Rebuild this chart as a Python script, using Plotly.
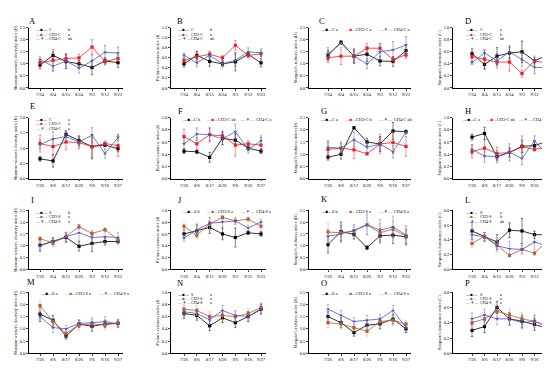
import plotly.graph_objects as go

# ---------------- DATA ----------------
dates_r1 = ["7/24", "8/4", "8/15", "8/24", "9/3", "9/12", "9/23"]
dates_r2 = ["7/26", "8/6", "8/17", "8/26", "9/6", "9/16", "9/27"]
dates_r3 = ["7/26", "8/4", "8/15", "8/26", "9/3", "9/12", "9/23"]
dates_r4 = ["7/26", "8/6", "8/17", "8/26", "9/6", "9/16", "9/27"]

names_C = ["C", "CH3-C", "CH4-C"]
names_S = ["S", "CH3-S", "CH4-S"]

# significance letters per panel (series order)
sig_A = ["b", "a", "ab"]; sig_B = ["b", "a", "ab"]; sig_C = ["a", "a", "a"]; sig_D = ["a", "b", "ab"]
sig_E = ["a", "a", "a"]; sig_F = ["b", "ab", "a"]; sig_G = ["a", "b", "ab"]; sig_H = ["a", "ab", "b"]
sig_I = ["b", "a", "a"]; sig_J = ["b", "a", "a"]; sig_K = ["b", "a", "a"]; sig_L = ["a", "b", "ab"]
sig_M = ["a", "a", "a"]; sig_N = ["a", "a", "a"]; sig_O = ["a", "a", "a"]; sig_P = ["a", "a", "a"]

# Panel A - Shannon (C series)
A_1 = [0.95, 1.35, 1.10, 1.00, 0.85, 1.12, 1.05]
A_2 = [1.05, 1.15, 1.22, 1.25, 1.70, 1.10, 1.22]
A_3 = [1.18, 0.90, 1.12, 0.82, 1.12, 1.48, 1.45]
A_1e = [0.15, 0.15, 0.30, 0.15, 0.30, 0.12, 0.20]
A_2e = [0.15, 0.45, 0.20, 0.15, 0.30, 0.15, 0.15]
A_3e = [0.12, 0.20, 0.25, 0.20, 0.25, 0.30, 0.25]
# Panel B - Pielou
B_1 = [0.48, 0.65, 0.53, 0.48, 0.52, 0.67, 0.50]
B_2 = [0.55, 0.62, 0.67, 0.60, 0.85, 0.65, 0.68]
B_3 = [0.65, 0.50, 0.65, 0.48, 0.55, 0.72, 0.70]
B_1e = [0.06, 0.08, 0.10, 0.05, 0.18, 0.05, 0.08]
B_2e = [0.05, 0.10, 0.06, 0.05, 0.10, 0.05, 0.06]
B_3e = [0.04, 0.08, 0.06, 0.06, 0.12, 0.08, 0.08]
# Panel C - Margalef
C_1 = [1.35, 1.90, 1.32, 1.40, 1.12, 1.10, 1.55]
C_2 = [1.25, 1.32, 1.32, 1.65, 1.65, 1.18, 1.38]
C_3 = [1.42, 1.85, 1.32, 1.00, 1.50, 1.58, 1.78]
C_1e = [0.20, 0.05, 0.25, 0.30, 0.20, 0.20, 0.25]
C_2e = [0.20, 0.35, 0.30, 0.20, 0.20, 0.10, 0.15]
C_3e = [0.25, 0.05, 0.30, 0.20, 0.35, 0.35, 0.35]
# Panel D - Simpson
D_1 = [0.57, 0.39, 0.53, 0.58, 0.60, 0.45, 0.54]
D_2 = [0.52, 0.48, 0.43, 0.43, 0.24, 0.45, 0.41]
D_3 = [0.42, 0.58, 0.45, 0.60, 0.47, 0.34, 0.34]
D_1e = [0.08, 0.08, 0.14, 0.10, 0.18, 0.05, 0.10]
D_2e = [0.08, 0.15, 0.06, 0.15, 0.06, 0.08, 0.06]
D_3e = [0.03, 0.05, 0.12, 0.10, 0.12, 0.10, 0.10]
# Panel E - Shannon
E_1 = [0.65, 0.58, 1.45, 1.25, 1.05, 1.10, 0.98]
E_2 = [1.15, 1.05, 1.20, 1.18, 1.05, 1.15, 1.08]
E_3 = [1.12, 1.30, 1.38, 1.20, 1.42, 0.82, 1.35]
E_1e = [0.08, 0.20, 0.10, 0.15, 0.40, 0.05, 0.10]
E_2e = [0.28, 0.25, 0.25, 0.20, 0.35, 0.08, 0.35]
E_3e = [0.15, 0.25, 0.20, 0.15, 0.25, 0.15, 0.10]
# Panel F - Pielou
F_1 = [0.45, 0.44, 0.35, 0.66, 0.63, 0.50, 0.45]
F_2 = [0.69, 0.57, 0.72, 0.70, 0.55, 0.57, 0.55]
F_3 = [0.57, 0.73, 0.72, 0.65, 0.77, 0.48, 0.62]
F_1e = [0.04, 0.03, 0.08, 0.10, 0.10, 0.04, 0.04]
F_2e = [0.12, 0.10, 0.10, 0.08, 0.18, 0.05, 0.12]
F_3e = [0.10, 0.10, 0.12, 0.10, 0.12, 0.06, 0.08]
# Panel G - Margalef
G_1 = [0.88, 1.00, 2.08, 1.50, 1.42, 1.95, 1.92]
G_2 = [1.20, 1.25, 1.18, 1.02, 1.42, 1.48, 1.32]
G_3 = [1.28, 1.25, 1.60, 1.28, 1.42, 1.10, 1.90]
G_1e = [0.12, 0.20, 0.05, 0.15, 0.30, 0.35, 0.05]
G_2e = [0.35, 0.25, 0.35, 0.05, 0.40, 0.45, 0.40]
G_3e = [0.20, 0.20, 0.30, 0.20, 0.30, 0.25, 0.10]
# Panel H - Simpson
H_1 = [0.68, 0.74, 0.36, 0.43, 0.53, 0.54, 0.61]
H_2 = [0.44, 0.50, 0.41, 0.43, 0.52, 0.48, 0.52]
H_3 = [0.48, 0.37, 0.36, 0.43, 0.33, 0.62, 0.39]
H_1e = [0.05, 0.10, 0.06, 0.06, 0.10, 0.06, 0.03]
H_2e = [0.10, 0.14, 0.10, 0.08, 0.18, 0.03, 0.14]
H_3e = [0.08, 0.10, 0.10, 0.14, 0.10, 0.08, 0.06]
# Panel I - Shannon (S series)
I_1 = [1.02, 1.18, 1.35, 0.98, 1.10, 1.18, 1.18]
I_2 = [1.30, 1.12, 1.40, 1.80, 1.52, 1.68, 1.25]
I_3 = [1.00, 1.20, 1.38, 1.55, 1.35, 1.38, 1.35]
I_1e = [0.25, 0.15, 0.20, 0.20, 0.35, 0.15, 0.10]
I_2e = [0.08, 0.15, 0.15, 0.10, 0.10, 0.08, 0.15]
I_3e = [0.20, 0.15, 0.20, 0.35, 0.30, 0.25, 0.20]
# Panel J - Pielou
J_1 = [0.60, 0.65, 0.71, 0.60, 0.54, 0.62, 0.60]
J_2 = [0.73, 0.58, 0.77, 0.88, 0.82, 0.85, 0.73]
J_3 = [0.53, 0.67, 0.78, 0.80, 0.82, 0.70, 0.80]
J_1e = [0.07, 0.10, 0.10, 0.10, 0.16, 0.03, 0.04]
J_2e = [0.04, 0.06, 0.10, 0.04, 0.04, 0.04, 0.06]
J_3e = [0.06, 0.10, 0.10, 0.10, 0.06, 0.05, 0.05]
# Panel K - Margalef
K_1 = [1.05, 1.60, 1.48, 0.92, 1.42, 1.45, 1.38]
K_2 = [1.58, 1.55, 1.62, 1.88, 1.55, 1.70, 1.40]
K_3 = [1.40, 1.50, 1.65, 1.90, 1.65, 1.80, 1.45]
K_1e = [0.35, 0.40, 0.20, 0.08, 0.30, 0.35, 0.30]
K_2e = [0.35, 0.30, 0.25, 0.40, 0.40, 0.35, 0.40]
K_3e = [0.30, 0.35, 0.25, 0.45, 0.45, 0.45, 0.40]
# Panel L - Simpson
L_1 = [0.52, 0.44, 0.37, 0.53, 0.52, 0.47, 0.47]
L_2 = [0.35, 0.45, 0.33, 0.19, 0.27, 0.22, 0.38]
L_3 = [0.47, 0.44, 0.32, 0.28, 0.27, 0.37, 0.32]
L_1e = [0.12, 0.06, 0.10, 0.10, 0.17, 0.05, 0.07]
L_2e = [0.05, 0.05, 0.05, 0.02, 0.06, 0.03, 0.04]
L_3e = [0.06, 0.05, 0.08, 0.10, 0.06, 0.10, 0.08]
# Panel M - Shannon
M_1 = [1.60, 1.35, 0.70, 1.20, 1.10, 1.20, 1.22]
M_2 = [1.95, 1.30, 0.82, 1.15, 1.20, 1.15, 1.25]
M_3 = [1.50, 1.05, 1.00, 1.22, 1.25, 1.30, 1.20]
M_1e = [0.30, 0.20, 0.12, 0.15, 0.20, 0.15, 0.15]
M_2e = [0.20, 0.20, 0.15, 0.20, 0.20, 0.20, 0.15]
M_3e = [0.20, 0.20, 0.15, 0.15, 0.20, 0.20, 0.15]
# Panel N - Pielou
N_1 = [0.65, 0.62, 0.45, 0.58, 0.50, 0.60, 0.72]
N_2 = [0.72, 0.70, 0.60, 0.62, 0.60, 0.65, 0.75]
N_3 = [0.68, 0.65, 0.55, 0.70, 0.62, 0.60, 0.73]
N_1e = [0.08, 0.08, 0.08, 0.08, 0.08, 0.08, 0.08]
N_2e = [0.08, 0.08, 0.08, 0.08, 0.08, 0.08, 0.08]
N_3e = [0.08, 0.08, 0.08, 0.08, 0.08, 0.08, 0.08]
# Panel O - Margalef
O_1 = [1.50, 1.25, 0.85, 1.15, 1.20, 1.40, 1.00]
O_2 = [1.25, 1.20, 1.05, 0.90, 1.30, 1.35, 1.20]
O_3 = [1.80, 1.55, 1.30, 1.35, 1.40, 1.75, 1.05]
O_1e = [0.20, 0.20, 0.15, 0.20, 0.20, 0.20, 0.15]
O_2e = [0.20, 0.20, 0.15, 0.20, 0.20, 0.20, 0.15]
O_3e = [0.20, 0.20, 0.15, 0.20, 0.20, 0.20, 0.15]
# Panel P - Simpson
P_1 = [0.30, 0.35, 0.60, 0.45, 0.42, 0.38, 0.33]
P_2 = [0.40, 0.45, 0.55, 0.50, 0.45, 0.42, 0.35]
P_3 = [0.45, 0.50, 0.45, 0.45, 0.40, 0.42, 0.35]
P_1e = [0.08, 0.08, 0.08, 0.08, 0.08, 0.08, 0.08]
P_2e = [0.08, 0.08, 0.08, 0.08, 0.08, 0.08, 0.08]
P_3e = [0.08, 0.08, 0.08, 0.08, 0.08, 0.08, 0.08]

ytitle_H = "Shannon-wiener's diversity index (H)"
ytitle_J = "Pielou's evenness index (J)"
ytitle_D = "Margalef's richness index (D)"
ytitle_C = "Simpson's dominance index (C)"

# ---------------- PANEL SPECS ----------------
panels = [
    ("A", [A_1, A_2, A_3], [A_1e, A_2e, A_3e], sig_A, 2.5, 0.5, ytitle_H, "v"),
    ("B", [B_1, B_2, B_3], [B_1e, B_2e, B_3e], sig_B, 1.2, 0.2, ytitle_J, "v"),
    ("C", [C_1, C_2, C_3], [C_1e, C_2e, C_3e], sig_C, 2.5, 0.5, ytitle_D, "h"),
    ("D", [D_1, D_2, D_3], [D_1e, D_2e, D_3e], sig_D, 1.0, 0.2, ytitle_C, "v"),
    ("E", [E_1, E_2, E_3], [E_1e, E_2e, E_3e], sig_E, 2.0, 0.5, ytitle_H, "v"),
    ("F", [F_1, F_2, F_3], [F_1e, F_2e, F_3e], sig_F, 1.0, 0.2, ytitle_J, "h"),
    ("G", [G_1, G_2, G_3], [G_1e, G_2e, G_3e], sig_G, 2.5, 0.5, ytitle_D, "h"),
    ("H", [H_1, H_2, H_3], [H_1e, H_2e, H_3e], sig_H, 1.0, 0.2, ytitle_C, "h"),
    ("I", [I_1, I_2, I_3], [I_1e, I_2e, I_3e], sig_I, 2.5, 0.5, ytitle_H, "v"),
    ("J", [J_1, J_2, J_3], [J_1e, J_2e, J_3e], sig_J, 1.0, 0.2, ytitle_J, "h"),
    ("K", [K_1, K_2, K_3], [K_1e, K_2e, K_3e], sig_K, 2.5, 0.5, ytitle_D, "h"),
    ("L", [L_1, L_2, L_3], [L_1e, L_2e, L_3e], sig_L, 0.8, 0.2, ytitle_C, "v"),
    ("M", [M_1, M_2, M_3], [M_1e, M_2e, M_3e], sig_M, 2.5, 0.5, ytitle_H, "h"),
    ("N", [N_1, N_2, N_3], [N_1e, N_2e, N_3e], sig_N, 1.0, 0.2, ytitle_J, "v"),
    ("O", [O_1, O_2, O_3], [O_1e, O_2e, O_3e], sig_O, 2.5, 0.5, ytitle_D, "h"),
    ("P", [P_1, P_2, P_3], [P_1e, P_2e, P_3e], sig_P, 0.8, 0.2, ytitle_C, "v"),
]
row_dates = [dates_r1, dates_r2, dates_r3, dates_r4]
row_names = [names_C, names_C, names_S, names_S]

# layout geometry (pixels)
W, Hh = 550, 370
col_axis = [21, 163, 301, 445]
col_first = [32, 176, 320, 464]
col_last = [110, 253, 398, 539]
row_top = [18, 109, 203, 286]
row_bot = [79, 171, 263, 348]
letter_pos = [(24, 11), (172, 11), (314, 11), (460, 11),
              (24, 97), (172, 102), (316, 102), (460, 102),
              (24, 193), (172, 193), (316, 192), (460, 193),
              (23, 276), (172, 277), (316, 277), (460, 277)]

colors_C = ["#000000", "#E8202A", "#4A5FB0"]
err_C = ["#000000", "#E8202A", "#4A5FB0"]
colors_S = ["#000000", "#B0602A", "#5A4FC0"]
err_S = ["#000000", "#F08C8C", "#7A70D0"]
symbols = ["square", "square", "triangle-down"]
sym_glyph = ["■", "■", "▼"]

FONT = "Liberation Serif"
fig = go.Figure()
annotations = []

def px_x(x):
    return x / W

def px_y(y):
    return 1 - y / Hh

for k, (letter, ys, es, sig, ymax, dtick, ytitle, lmode) in enumerate(panels):
    r, c = divmod(k, 4)
    ax_i = k + 1
    xname = "x" if ax_i == 1 else f"x{ax_i}"
    yname = "y" if ax_i == 1 else f"y{ax_i}"
    cols = colors_C if r < 2 else colors_S
    ecols = err_C if r < 2 else err_S
    names = row_names[r]
    dates = row_dates[r]
    xs = list(range(len(dates)))
    for s in range(3):
        fig.add_trace(go.Scatter(
            x=xs, y=ys[s], xaxis=xname, yaxis=yname, mode="lines+markers",
            line=dict(color=cols[s], width=0.8),
            marker=dict(symbol=symbols[s], size=3.2, color=cols[s]),
            error_y=dict(type="data", array=es[s], color=ecols[s], thickness=0.5, width=1.2),
            showlegend=False, cliponaxis=False, name=names[s]))
    ax0, x1, xl = col_axis[c], col_first[c], col_last[c]
    sp = (xl - x1) / 6.0
    xend = xl + 5
    rmin = -(x1 - ax0) / sp
    rmax = 6 + (xend - xl) / sp
    xa = dict(domain=[px_x(ax0), px_x(xend)], range=[rmin, rmax],
              tickvals=xs, ticktext=dates, ticks="outside", ticklen=2, tickwidth=0.6,
              showline=True, linecolor="black", linewidth=0.6, showgrid=False, zeroline=False,
              tickfont=dict(family=FONT, size=4.5, color="black"),
              anchor=yname, fixedrange=True)
    ya = dict(domain=[px_y(row_bot[r]), px_y(row_top[r])], range=[0, ymax],
              dtick=dtick, tick0=0, tickformat=".1f", ticks="outside", ticklen=2, tickwidth=0.6,
              showline=True, linecolor="black", linewidth=0.6, showgrid=False, zeroline=False,
              tickfont=dict(family=FONT, size=4.5, color="black"),
              title=dict(text=ytitle, font=dict(family=FONT, size=4.3, color="black"), standoff=2),
              anchor=xname, fixedrange=True)
    fig.layout[("xaxis" if ax_i == 1 else f"xaxis{ax_i}")] = xa
    fig.layout[("yaxis" if ax_i == 1 else f"yaxis{ax_i}")] = ya

    # panel letter
    lx, ly = letter_pos[k]
    annotations.append(dict(text=letter, x=px_x(lx), y=px_y(ly), xref="paper", yref="paper",
                            xanchor="center", yanchor="middle", showarrow=False,
                            font=dict(family=FONT, size=8.5, color="black")))
    # legend (drawn as text)
    top = row_top[r]
    for s in range(3):
        sample = f"<span style='color:{cols[s]}'>—{sym_glyph[s]}—</span>"
        if lmode == "v":
            sx, nx, gx = ax0 + 4, ax0 + 18, ax0 + 37
            if c == 3:
                sx, nx, gx = ax0 + 10, ax0 + 25, ax0 + 45
            sy = top + 2 + 4.5 * s
            annotations.append(dict(text=sample, x=px_x(sx), y=px_y(sy), xref="paper", yref="paper",
                                    xanchor="left", yanchor="middle", showarrow=False,
                                    font=dict(family=FONT, size=4.3)))
            annotations.append(dict(text=names[s], x=px_x(nx), y=px_y(sy), xref="paper", yref="paper",
                                    xanchor="left", yanchor="middle", showarrow=False,
                                    font=dict(family=FONT, size=4.2, color="black")))
            annotations.append(dict(text=sig[s], x=px_x(gx), y=px_y(sy), xref="paper", yref="paper",
                                    xanchor="left", yanchor="middle", showarrow=False,
                                    font=dict(family=FONT, size=4.2, color="black")))
        else:
            soff = [9, 33, 67][s]
            noff = [21, 45, 83][s]
            if c == 3:
                soff = [7, 30, 63][s]
                noff = [19, 42, 78][s]
            sy = top + 1.5
            annotations.append(dict(text=sample, x=px_x(ax0 + soff), y=px_y(sy), xref="paper", yref="paper",
                                    xanchor="left", yanchor="middle", showarrow=False,
                                    font=dict(family=FONT, size=4.5)))
            annotations.append(dict(text=f"{names[s]} {sig[s]}", x=px_x(ax0 + noff), y=px_y(sy),
                                    xref="paper", yref="paper", xanchor="left", yanchor="middle",
                                    showarrow=False, font=dict(family=FONT, size=4.3, color="black")))

fig.update_layout(width=W, height=Hh, margin=dict(l=0, r=0, t=0, b=0),
                  paper_bgcolor="white", plot_bgcolor="white", showlegend=False,
                  annotations=annotations, font=dict(family=FONT))

fig.write_html("out.html")
